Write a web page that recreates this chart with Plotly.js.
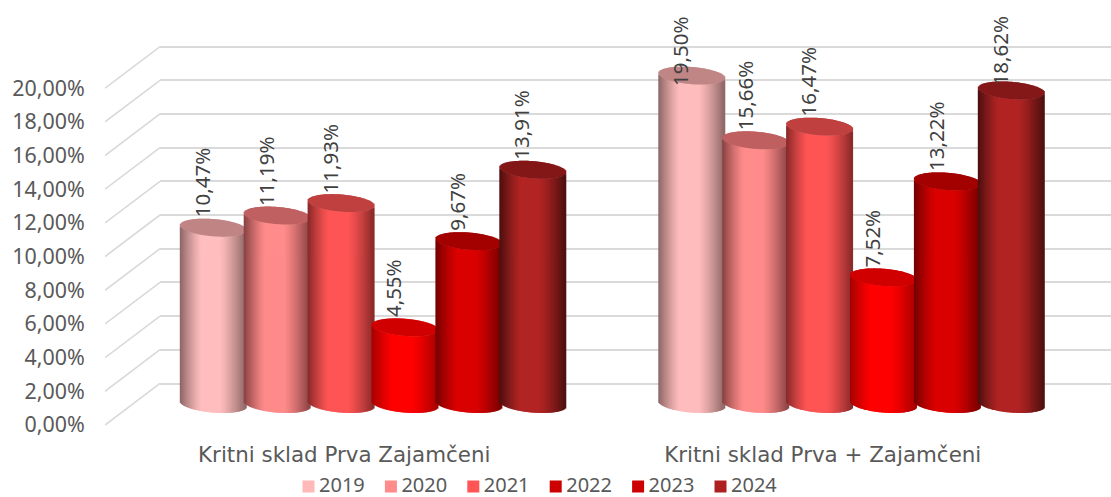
<!DOCTYPE html>
<html><head><meta charset="utf-8">
<script src="https://cdn.plot.ly/plotly-3.0.1.min.js"></script>
<style>html,body{margin:0;padding:0;background:#fff}#c{width:1111px;height:497px}</style></head>
<body><div id="c"></div>
<script>
const categories = ['Kritni sklad Prva Zajamčeni', 'Kritni sklad Prva + Zajamčeni'];
const years = ['2019', '2020', '2021', '2022', '2023', '2024'];
const v2019 = [10.47, 19.50];
const v2020 = [11.19, 15.66];
const v2021 = [11.93, 16.47];
const v2022 = [4.55, 7.52];
const v2023 = [9.67, 13.22];
const v2024 = [13.91, 18.62];
const seriesValues = [v2019, v2020, v2021, v2022, v2023, v2024];
const yTicks = [0, 2, 4, 6, 8, 10, 12, 14, 16, 18, 20];
const yTickLabels = ['0,00%', '2,00%', '4,00%', '6,00%', '8,00%', '10,00%', '12,00%', '14,00%', '16,00%', '18,00%', '20,00%'];

const bodyColors = [[255,189,189],[255,139,139],[255,85,85],[255,0,0],[218,0,0],[178,36,36]];
const capColors  = [[192,133,133],[192,96,96],[192,64,64],[208,0,0],[163,0,0],[132,24,24]];
const edgeColors = [[140,100,100],[135,65,65],[135,40,40],[165,0,0],[115,0,0],[75,15,15]];
const legendColors = ['#ffb9b9', '#ff8b8b', '#ff5555', '#cc0000', '#cc0000', '#ae2020'];

const W = 1111, H = 497, PX = 16.84;      // PX: pixels per percentage point
const FONT = '"Noto Sans", sans-serif';
const catPx = 478.5;                      // pixels per category
const dx = p => p / catPx, dy = p => p / PX;
const stepPx = 63.9, rxPx = 33.2, ryPx = 8.6, tiltPx = 2.6;

function shade(i, t) {
  const lo = -0.35, hi = 0.2;
  let k = t < lo ? (lo - t) / (1 + lo) : t > hi ? (t - hi) / (1 - hi) : 0;
  k = Math.pow(k, 1.25);
  const c = bodyColors[i].map((b, j) => Math.round(b + (edgeColors[i][j] - b) * k));
  return `rgb(${c.join(',')})`;
}

const traces = [];
const diagX = [], diagY = [];
yTicks.forEach(v => { diagX.push(0.5, 0.5 + dx(55), null); diagY.push(v, v + dy(41.6), null); });
traces.push({type:'scatter', mode:'lines', x:diagX, y:diagY, xaxis:'x', yaxis:'y', cliponaxis:false,
  line:{color:'#d9d9d9', width:1.6}, showlegend:false, hoverinfo:'skip'});
traces.push({type:'scatter', mode:'lines', x:[0], y:[0], xaxis:'x2', yaxis:'y2', showlegend:false, hoverinfo:'skip'});

const annotations = [];
years.forEach((yr, s) => {
  const x = [], y = [], base = [], col = [];
  categories.forEach((_, c) => {
    const val = seriesValues[s][c];
    const cx = (c + 1) + dx((s - 2.5) * stepPx);
    for (let p = -rxPx + 0.5; p < rxPx; p += 1) {
      const t = p / rxPx, line = -tiltPx * t, half = ryPx * Math.sqrt(1 - t * t);
      x.push(cx + dx(p));
      base.push(dy(line - half));
      y.push(val);
      col.push(shade(s, t));
      x.push(cx + dx(p));
      base.push(val + dy(line - half));
      y.push(dy(2 * half));
      col.push(`rgb(${capColors[s].join(',')})`);
    }
    annotations.push({xref:'x3', yref:'y3', x:cx, y:Math.min(val, 18.29), xshift:-11.5, yshift:8,
      xanchor:'center', yanchor:'bottom', showarrow:false, textangle:-90,
      text:val.toFixed(2).replace('.', ',') + '%', font:{family:FONT, size:20.5, color:'#404040'}});
  });
  traces.push({type:'bar', x, y, base, xaxis:'x3', yaxis:'y3', width:dx(2), marker:{color:col, opacity:1, line:{width:0}},
    showlegend:false, hoverinfo:'skip'});
});
years.forEach((yr, s) => traces.push({type:'bar', name:yr, x:[null], y:[null], xaxis:'x3', yaxis:'y3',
  marker:{color:legendColors[s], opacity:1}, hoverinfo:'skip'}));

const dom = (a, b) => [a / W, b / W];
const vdom = (bottom, top) => [1 - bottom / H, 1 - top / H];
const hidden = {showgrid:false, zeroline:false, showticklabels:false, showline:false, ticks:''};

const layout = {
  width:W, height:H, margin:{l:0, r:0, t:0, b:0, autoexpand:false}, paper_bgcolor:'#fff', plot_bgcolor:'rgba(0,0,0,0)',
  barmode:'overlay', bargap:0.01, showlegend:true,
  xaxis:{domain:dom(105, 1062), range:[0.5, 2.5], tickvals:[1, 2], ticktext:categories, showgrid:false, zeroline:false,
    ticks:'outside', ticklen:5, tickcolor:'rgba(0,0,0,0)', tickfont:{family:'"DejaVu Sans", sans-serif', size:21.4, color:'#595959'}, showline:false},
  yaxis:{domain:vdom(425 + 0.3 * PX, 425 - 22.6 * PX), range:[-0.3, 22.6], tickvals:yTicks, ticktext:yTickLabels,
    showgrid:false, zeroline:false, showline:false, ticks:'outside', ticklen:15, tickcolor:'rgba(0,0,0,0)',
    tickfont:{family:FONT, size:21.4, color:'#595959'}},
  xaxis2:Object.assign({domain:dom(160, 1111), range:[0, 1], anchor:'y2'}, hidden),
  yaxis2:{domain:vdom(383.5 + 0.2 * PX, 46.7 - 0.2 * PX), range:[-0.2, 20.2], tickvals:yTicks, anchor:'x2', showticklabels:false,
    ticks:'', showline:false, zeroline:false, showgrid:true, gridcolor:'#dadada', gridwidth:2},
  xaxis3:Object.assign({domain:dom(134, 1091), range:[0.5, 2.5], anchor:'y3'}, hidden),
  yaxis3:Object.assign({domain:vdom(404 + 1.3 * PX, 404 - 23.9 * PX), range:[-1.3, 23.9], anchor:'x3'}, hidden),
  legend:{orientation:'h', x:279 / W, xanchor:'left', y:1 - 458 / H, yanchor:'top',
    traceorder:'normal', font:{family:FONT, size:20, color:'#595959'}, bgcolor:'rgba(0,0,0,0)', borderwidth:0},
  annotations
};
Plotly.newPlot('c', traces, layout, {displayModeBar:false, staticPlot:true}).then(() => {
  document.querySelectorAll('#c .legend .traces').forEach((el, i) => {
    const m = /translate\(\s*[-\d.]+\s*,\s*([-\d.]+)/.exec(el.getAttribute('transform') || '');
    el.setAttribute('transform', `translate(${i * 82.4},${m ? +m[1] + 7 : 7})`);
  });
  document.querySelectorAll('#c .legendsymbols').forEach(el => el.setAttribute('transform', 'translate(9.5,2)'));
  // let the legend's group show the entries moved inside its box
  document.querySelectorAll('#c .legend .scrollbox').forEach(el => el.removeAttribute('clip-path'));
  document.querySelectorAll('#c .legend').forEach(el => el.style.overflow = 'visible');
});
</script></body></html>
